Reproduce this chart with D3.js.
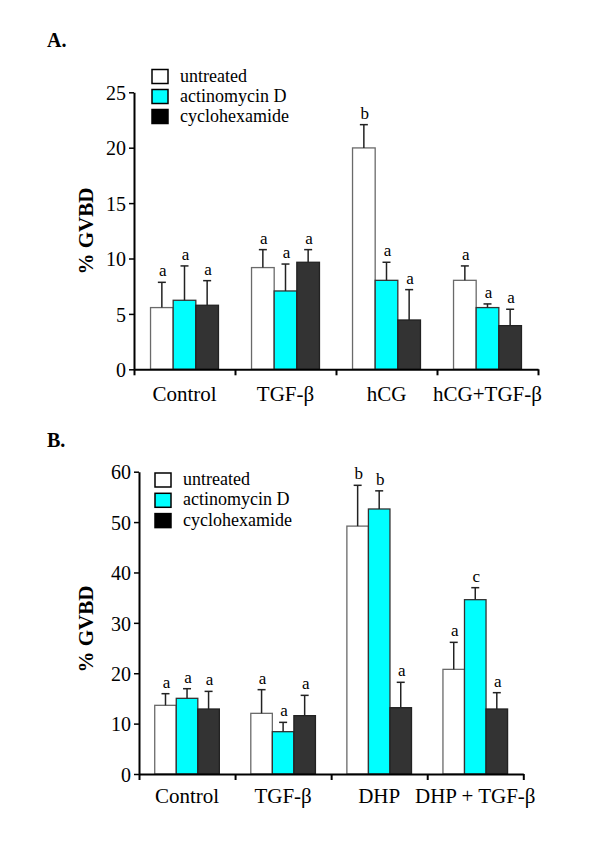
<!DOCTYPE html>
<html>
<head>
<meta charset="utf-8">
<script src="https://cdn.jsdelivr.net/npm/d3@7"></script>
<style>
  html, body { margin: 0; padding: 0; background: #fff; }
  svg { display: block; }
  text { font-family: "Liberation Serif", "Times New Roman", serif; fill: #000; }
</style>
</head>
<body>
<svg id="chart" width="600" height="851"></svg>
<script>
// ---------- DATA ----------
const seriesNames = ["untreated", "actinomycin D", "cyclohexamide"];

// Panel A
const categoriesA = ["Control", "TGF-β", "hCG", "hCG+TGF-β"];
const untreatedA = [5.57, 9.18, 19.98, 8.03];
const untreatedErrA = [2.28, 1.62, 2.1, 1.3];
const actinomycinA = [6.23, 7.07, 8.03, 5.57];
const actinomycinErrA = [3.1, 2.43, 1.63, 0.33];
const cyclohexamideA = [5.78, 9.66, 4.45, 3.94];
const cyclohexamideErrA = [2.22, 1.14, 2.74, 1.48];
const lettersUntreatedA = ["a", "a", "b", "a"];
const lettersActinomycinA = ["a", "a", "a", "a"];
const lettersCyclohexamideA = ["a", "a", "a", "a"];
const yTicksA = [0, 5, 10, 15, 20, 25];

// Panel B
const categoriesB = ["Control", "TGF-β", "DHP", "DHP + TGF-β"];
const untreatedB = [13.63, 12.04, 49.2, 20.77];
const untreatedErrB = [2.31, 4.7, 8.1, 5.36];
const actinomycinB = [15.02, 8.4, 52.6, 34.6];
const actinomycinErrB = [1.91, 1.85, 3.6, 2.38];
const cyclohexamideB = [12.9, 11.58, 13.16, 12.9];
const cyclohexamideErrB = [3.5, 4.03, 5.04, 3.24];
const lettersUntreatedB = ["a", "a", "b", "a"];
const lettersActinomycinB = ["a", "a", "b", "c"];
const lettersCyclohexamideB = ["a", "a", "a", "a"];
const yTicksB = [0, 10, 20, 30, 40, 50, 60];

// ---------- STYLE ----------
const fills = { "untreated": "#ffffff", "actinomycin D": "#00ffff", "cyclohexamide": "#333333" };
const strokes = { "untreated": "#6a6a6a", "actinomycin D": "#333333", "cyclohexamide": "#222222" };
const legendFills = { "untreated": "#ffffff", "actinomycin D": "#00ffff", "cyclohexamide": "#000000" };

const svg = d3.select("#chart");

function drawPanel(cfg) {
  const g = svg.append("g");
  const x0 = d3.scaleBand().domain(cfg.categories).range([cfg.left, cfg.right]).padding(0);
  const x1 = d3.scaleBand().domain(seriesNames).range([0, x0.bandwidth()]).paddingInner(0).paddingOuter(0.73);
  const y = d3.scaleLinear().domain([0, cfg.ymax]).range([cfg.bottom, cfg.top]);

  const rows = [];
  cfg.categories.forEach((c, i) => {
    seriesNames.forEach((s, j) => {
      rows.push({ cat: c, series: s, value: cfg.values[j][i], err: cfg.errs[j][i], letter: cfg.letters[j][i] });
    });
  });

  // bars
  g.selectAll("rect.bar").data(rows).join("rect")
    .attr("class", "bar")
    .attr("x", d => x0(d.cat) + x1(d.series))
    .attr("y", d => y(d.value))
    .attr("width", x1.bandwidth())
    .attr("height", d => y(0) - y(d.value))
    .attr("fill", d => fills[d.series])
    .attr("stroke", d => strokes[d.series])
    .attr("stroke-width", 1.3);

  // error bars (upward only)
  const cx = d => x0(d.cat) + x1(d.series) + x1.bandwidth() / 2;
  g.selectAll("line.err").data(rows).join("line")
    .attr("x1", cx).attr("x2", cx)
    .attr("y1", d => y(d.value)).attr("y2", d => y(d.value + d.err))
    .attr("stroke", "#222").attr("stroke-width", 1.5);
  g.selectAll("line.cap").data(rows).join("line")
    .attr("x1", d => cx(d) - 4).attr("x2", d => cx(d) + 4)
    .attr("y1", d => y(d.value + d.err)).attr("y2", d => y(d.value + d.err))
    .attr("stroke", "#222").attr("stroke-width", 1.5);

  // significance letters
  g.selectAll("text.letter").data(rows).join("text")
    .attr("x", d => cx(d) + 1)
    .attr("y", d => y(d.value + d.err) - 6)
    .attr("text-anchor", "middle")
    .style("font-size", "17px")
    .text(d => d.letter);

  // y axis
  const yAxis = d3.axisLeft(y).tickValues(cfg.yTicks).tickSizeInner(5).tickSizeOuter(0).tickPadding(3);
  const ya = g.append("g").attr("transform", `translate(${cfg.left},0)`).call(yAxis);
  ya.select(".domain").attr("stroke", "#000").attr("stroke-width", 2);
  ya.selectAll(".tick line").attr("stroke", "#000").attr("stroke-width", 1.5);
  ya.selectAll(".tick text").style("font-size", "20px").style("font-family", "'Liberation Serif', serif").attr("dy", "0.36em");

  // x axis
  const bounds = cfg.categories.map(c => x0(c)).concat([cfg.right]);
  const xAxisScale = d3.scaleLinear().domain([cfg.left, cfg.right]).range([cfg.left, cfg.right]);
  const xAxis = d3.axisBottom(xAxisScale).tickValues(bounds).tickSizeInner(6).tickSizeOuter(0).tickFormat("");
  const xa = g.append("g").attr("transform", `translate(0,${cfg.bottom})`).call(xAxis);
  xa.select(".domain").attr("stroke", "#000").attr("stroke-width", 2);
  xa.selectAll(".tick line").attr("stroke", "#000").attr("stroke-width", 2);

  // category labels
  g.selectAll("text.cat").data(cfg.categories).join("text")
    .attr("x", c => x0(c) + x0.bandwidth() / 2)
    .attr("y", cfg.bottom + cfg.catOffset)
    .attr("text-anchor", "middle")
    .style("font-size", "21px")
    .text(c => c);

  // y title
  g.append("text")
    .attr("transform", `translate(${cfg.ytitleX},${cfg.ytitleY}) rotate(-90)`)
    .attr("text-anchor", "middle")
    .style("font-size", "21px")
    .style("font-weight", "bold")
    .text("% GVBD");

  // panel title
  g.append("text")
    .attr("x", cfg.titleX).attr("y", cfg.titleY)
    .style("font-size", "20px").style("font-weight", "bold")
    .text(cfg.title);

  // legend
  const lg = g.append("g");
  seriesNames.forEach((s, i) => {
    const yy = cfg.legendY + i * cfg.legendStep;
    lg.append("rect")
      .attr("x", cfg.legendX).attr("y", yy)
      .attr("width", 16).attr("height", 14)
      .attr("fill", legendFills[s]).attr("stroke", "#000").attr("stroke-width", 1.5);
    lg.append("text")
      .attr("x", cfg.legendX + 28).attr("y", yy + 12)
      .style("font-size", "18px")
      .text(s);
  });
}

drawPanel({
  title: "A.", titleX: 47, titleY: 47,
  categories: categoriesA,
  values: [untreatedA, actinomycinA, cyclohexamideA],
  errs: [untreatedErrA, actinomycinErrA, cyclohexamideErrA],
  letters: [lettersUntreatedA, lettersActinomycinA, lettersCyclohexamideA],
  yTicks: yTicksA, ymax: 25,
  left: 134, right: 538, top: 92.3, bottom: 369.3,
  catOffset: 32, ytitleX: 93, ytitleY: 231,
  legendX: 152, legendY: 69.5, legendStep: 20
});

drawPanel({
  title: "B.", titleX: 47, titleY: 447,
  categories: categoriesB,
  values: [untreatedB, actinomycinB, cyclohexamideB],
  errs: [untreatedErrB, actinomycinErrB, cyclohexamideErrB],
  letters: [lettersUntreatedB, lettersActinomycinB, lettersCyclohexamideB],
  yTicks: yTicksB, ymax: 60,
  left: 139, right: 523.3, top: 471.7, bottom: 774,
  catOffset: 29, ytitleX: 93, ytitleY: 629,
  legendX: 155, legendY: 473, legendStep: 20.3
});
</script>
</body>
</html>
